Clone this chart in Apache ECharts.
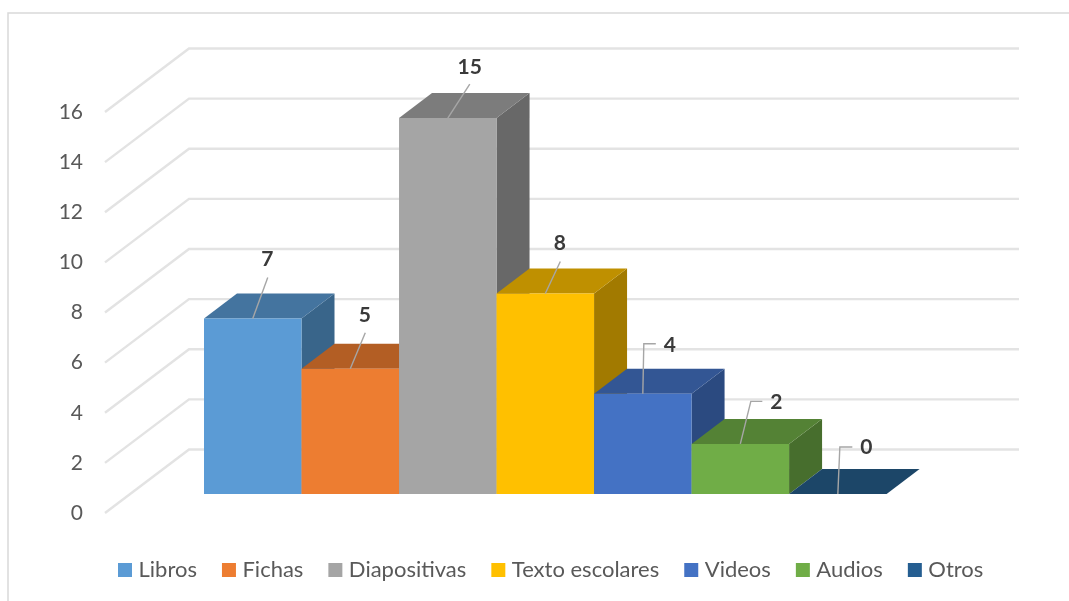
<!DOCTYPE html>
<html><head><meta charset="utf-8">
<style>html,body{margin:0;padding:0;background:#fff}#c{width:1069px;height:601px;filter:blur(0.45px)}</style>
<script src="https://cdn.jsdelivr.net/npm/echarts@6/dist/echarts.min.js"></script>
</head><body><div id="c"></div>
<script>
var categories = ['Libros','Fichas','Diapositivas','Texto escolares','Videos','Audios','Otros'];
var values = [7,5,15,8,4,2,0];
var axisTicks = [0,2,4,6,8,10,12,14,16];
var frontColors = ['#5B9BD5','#ED7D31','#A5A5A5','#FFC000','#4472C4','#70AD47','#255E91'];
var topColors = ['#44749F','#B35E24','#7C7C7C','#BF9000','#335694','#548235','#1C4668'];
var sideColors = ['#39658A','#9A5220','#686868','#A27A00','#2B4A80','#476E2D','#173C59'];
// leader-line shape, relative to the top-front centre of each bar: [elbowDx, elbowDy, endDx, endDy, textDx, textDy]
var leaderShapes = [
  [15,-41,15,-41,14.5,-59],
  [15,-36,15,-36,14.5,-53],
  [22,-34,22,-34,22,-51],
  [15,-32,15,-32,14.5,-50],
  [1,-50,13,-50,27,-49],
  [10.5,-42.5,22,-42.5,36,-41.5],
  [2,-47,14.5,-47,28.5,-46.3]
];
var FONT = 'Lato, Carlito, sans-serif';
var DEPTH_X = 33, DEPTH_Y = 25;      // bar depth
var LIFT = 19;                       // bars stand this far above the front floor edge
var WALL_DX = 84, WALL_DY = 63.5;    // side wall diagonal
var WALL_LEFT = 99, WALL_END = 1019; // front of wall left of plot; back wall right end

function gridItem(params, api){
  var p = api.coord([0, api.value(1)]);
  var x0 = params.coordSys.x - WALL_LEFT, y0 = p[1];
  return {type:'polyline', silent:true,
    shape:{points:[[x0,y0],[x0+WALL_DX,y0-WALL_DY],[WALL_END,y0-WALL_DY]]},
    style:{fill:null, stroke:'#E3E3E3', lineWidth:2.4}};
}
function barItem(idx){
  return function(params, api){
    var i = api.value(0), v = api.value(1);
    var c = api.coord([i, v]), b = api.coord([i, 0]);
    var w = api.size([1,0])[0];
    var l = c[0]-w/2, r = c[0]+w/2, t = c[1]-LIFT, y = b[1]-LIFT;
    var s = leaderShapes[idx];
    var pts = [[c[0],t],[c[0]+s[0],t+s[1]]];
    if (s[2]!==s[0]) pts.push([c[0]+s[2],t+s[3]]);
    return {type:'group', children:[
      {type:'polygon', silent:true, shape:{points:[[r,t],[r+DEPTH_X,t-DEPTH_Y],[r+DEPTH_X,y-DEPTH_Y],[r,y]]}, style:{fill:sideColors[idx]}},
      {type:'polygon', silent:true, shape:{points:[[l,t],[l+DEPTH_X,t-DEPTH_Y],[r+DEPTH_X,t-DEPTH_Y],[r,t]]}, style:{fill:topColors[idx]}},
      {type:'rect', silent:true, shape:{x:l,y:t,width:w,height:y-t}, style:{fill:frontColors[idx]}},
      {type:'polyline', silent:true, z2:5, shape:{points:pts}, style:{fill:null, stroke:'#A6A6A6', lineWidth:1.4}},
      {type:'text', silent:true, z2:6, style:{text:String(v), x:c[0]+s[4], y:t+s[5], align:'center', verticalAlign:'middle',
        font:'bold 21px '+FONT, fill:'#3A3A3A'}}
    ]};
  };
}
var series = [{type:'custom', name:'_grid', z:1, coordinateSystem:'cartesian2d', silent:true,
  data:axisTicks.map(function(t){return [0,t];}), renderItem:gridItem, encode:{x:0,y:1}}];
categories.forEach(function(n,i){
  series.push({type:'custom', name:n, z:2+i, coordinateSystem:'cartesian2d', silent:true,
    itemStyle:{color:frontColors[i]}, data:[[i,values[i]]], renderItem:barItem(i), encode:{x:0,y:1}});
});
var chart = echarts.init(document.getElementById('c'), null, {renderer:'canvas'});
chart.setOption({
  animation:false, backgroundColor:'#fff',
  grid:{left:204, top:112, width:682.6, height:401, containLabel:false},
  xAxis:{type:'category', data:categories, show:false},
  yAxis:{type:'value', min:0, max:16, interval:2, axisLine:{show:false}, axisTick:{show:false}, splitLine:{show:false},
    axisLabel:{margin:121, fontFamily:FONT, fontSize:21, color:'#595959', verticalAlign:'middle', padding:[2,0,0,0]}},
  legend:{data:categories, left:118, top:559, padding:0, itemWidth:14, itemHeight:14, itemGap:25, icon:'rect', selectedMode:false,
    textStyle:{fontFamily:FONT, fontSize:22, color:'#595959', padding:[0,0,0,1.5]}},
  graphic:[{type:'polyline', silent:true, shape:{points:[[8,601],[8,13],[1069,13]]}, style:{fill:null, stroke:'#D9D9D9', lineWidth:1.5}}],
  series:series
});
</script></body></html>
